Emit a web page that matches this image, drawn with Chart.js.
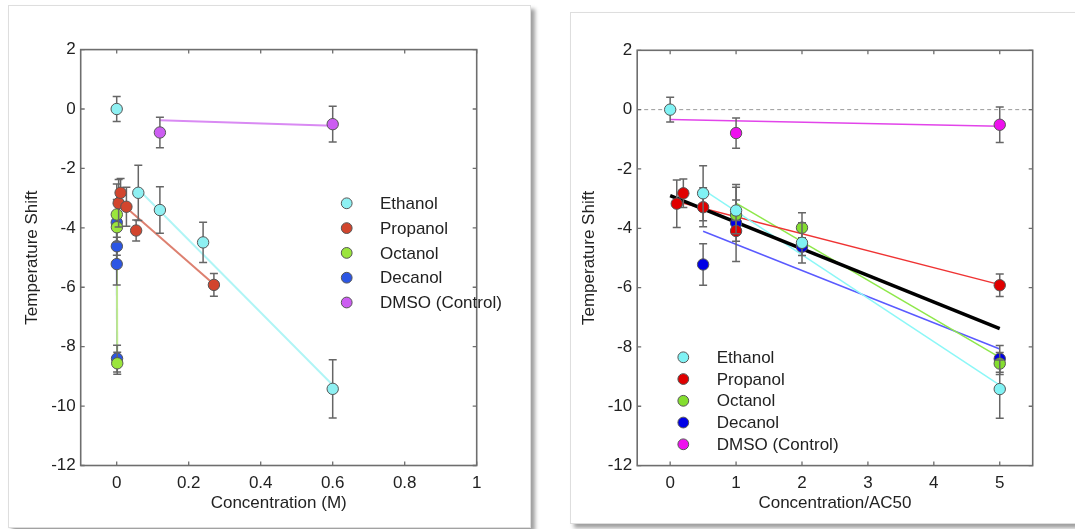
<!DOCTYPE html>
<html>
<head>
<meta charset="utf-8">
<title>Temperature shift vs concentration</title>
<script src="https://cdn.jsdelivr.net/npm/chart.js@4.4.1/dist/chart.umd.min.js"></script>
<style>
  html, body { margin: 0; padding: 0; background: #fff; }
  body { width: 1075px; height: 529px; position: relative; overflow: hidden; }
  .card { position: absolute; background: #fff; border: 1px solid #dedede; box-shadow: 4px 4px 4px rgba(0,0,0,0.38); }
  #leftCard { left: 8px; top: 5px; width: 521px; height: 521px; }
  #rightCard { left: 570px; top: 12px; width: 520px; height: 510px; }
  canvas { position: absolute; left: 0; top: 0; }
</style>
</head>
<body>
<div class="card" id="leftCard"><canvas id="concChart" width="521" height="521"></canvas></div>
<div class="card" id="rightCard"><canvas id="ratioChart" width="504" height="510"></canvas></div>
<script>
const seriesNames = ['Ethanol', 'Propanol', 'Octanol', 'Decanol', 'DMSO (Control)'];

// measured points: concentration (M), concentration/AC50, shift, error
const ethanolConc  = [0, 0.06, 0.12, 0.24, 0.6];
const ethanolRatio = [0, 0.5, 1, 2, 5];
const ethanolShift = [0, -2.82, -3.40, -4.49, -9.42];
const ethanolErr   = [0.42, 0.93, 0.78, 0.68, 0.98];

const propanolConc  = [0.0054, 0.0108, 0.027, 0.054, 0.27];
const propanolRatio = [0.1, 0.2, 0.5, 1, 5];
const propanolShift = [-3.17, -2.82, -3.29, -4.09, -5.92];
const propanolErr   = [0.8, 0.48, 0.66, 0.35, 0.38];

const octanolConc  = [0.0003, 0.0006, 0.0015];
const octanolRatio = [1, 2, 5];
const octanolShift = [-3.55, -3.98, -8.56];
const octanolErr   = [0.5, 0.5, 0.37];

const decanolConc  = [0.0001, 0.0002, 0.0004, 0.001];
const decanolRatio = [0.5, 1, 2, 5];
const decanolShift = [-5.22, -3.82, -4.62, -8.40];
const decanolErr   = [0.7, 1.3, 0.3, 0.45];

const dmsoConc  = [0.12, 0.6];
const dmsoRatio = [1, 5];
const dmsoShift = [-0.79, -0.51];
const dmsoErr   = [0.51, 0.6];

// linear fits, start and end points
const ethanolFitConc  = [0.06, 0.6];
const ethanolFitRatio = [0.5, 5];
const ethanolFitShift = [-2.7, -9.29];

const propanolFitConc  = [0.0054, 0.27];
const propanolFitRatio = [0.1, 5];
const propanolFitShift = [-3.1, -5.9];

const octanolFitConc  = [0.0003, 0.0015];
const octanolFitRatio = [1, 5];
const octanolFitShift = [-3.15, -8.35];

const decanolFitConc  = [0.0001, 0.001];
const decanolFitRatio = [0.5, 5];
const decanolFitShift = [-4.1, -8.07];

const dmsoFitConc       = [0.12, 0.6];
const dmsoFitConcShift  = [-0.38, -0.56];
const dmsoFitRatio      = [0, 5];
const dmsoFitRatioShift = [-0.33, -0.56];

const allFitRatio = [0, 5];
const allFitShift = [-2.9, -7.38];

const concTicks  = [0, 0.2, 0.4, 0.6, 0.8, 1];
const ratioTicks = [0, 1, 2, 3, 4, 5];
const shiftTicks = [2, 0, -2, -4, -6, -8, -10, -12];

Chart.defaults.font.family = 'Arial, "Liberation Sans", sans-serif';

const pts = (xs, ys) => xs.map((x, i) => ({ x: x, y: ys[i] }));

// error bars go under each dataset's own symbols
const errorBars = {
  id: 'errorBars',
  beforeDatasetDraw(chart, args) {
    const ds = chart.data.datasets[args.index];
    if (!ds.errors) return;
    const { ctx, scales: { x, y } } = chart;
    ctx.save();
    ctx.strokeStyle = '#666';
    ctx.lineWidth = 1.5;
    ds.data.forEach((p, i) => {
      const e = ds.errors[i];
      const px = x.getPixelForValue(p.x);
      const top = y.getPixelForValue(p.y + e);
      const bot = y.getPixelForValue(p.y - e);
      ctx.beginPath();
      ctx.moveTo(px, top); ctx.lineTo(px, bot);
      ctx.moveTo(px - 4, top); ctx.lineTo(px + 4, top);
      ctx.moveTo(px - 4, bot); ctx.lineTo(px + 4, bot);
      ctx.stroke();
    });
    ctx.restore();
  }
};

// box frame with inward ticks, optional dashed zero line
const frame = {
  id: 'frame',
  beforeDatasetsDraw(chart, args, opts) {
    if (!opts.zeroLine) return;
    const { ctx, chartArea: a, scales: { y } } = chart;
    const py = y.getPixelForValue(0);
    ctx.save();
    ctx.strokeStyle = '#9a9a9a';
    ctx.lineWidth = 1;
    ctx.setLineDash([4, 3]);
    ctx.beginPath();
    ctx.moveTo(a.left, py); ctx.lineTo(a.right, py);
    ctx.stroke();
    ctx.restore();
  },
  afterDraw(chart) {
    const { ctx, chartArea: a, scales: { x, y } } = chart;
    ctx.save();
    ctx.strokeStyle = '#6e6e6e';
    ctx.lineWidth = 1.6;
    ctx.strokeRect(a.left, a.top, a.right - a.left, a.bottom - a.top);
    ctx.lineWidth = 1.3;
    ctx.beginPath();
    x.ticks.forEach(t => {
      const px = x.getPixelForValue(t.value);
      ctx.moveTo(px, a.bottom); ctx.lineTo(px, a.bottom - 4);
      ctx.moveTo(px, a.top); ctx.lineTo(px, a.top + 4);
    });
    y.ticks.forEach(t => {
      const py = y.getPixelForValue(t.value);
      ctx.moveTo(a.left, py); ctx.lineTo(a.left + 4, py);
      ctx.moveTo(a.right, py); ctx.lineTo(a.right - 4, py);
    });
    ctx.stroke();
    ctx.restore();
  }
};

// symbol legend inside the plot
const dotLegend = {
  id: 'dotLegend',
  afterDraw(chart, args, opts) {
    const { ctx, chartArea: a } = chart;
    const items = chart.data.datasets.filter(d => d.inLegend);
    ctx.save();
    ctx.font = '17px Arial, "Liberation Sans", sans-serif';
    ctx.textBaseline = 'middle';
    items.forEach((d, i) => {
      const cx = a.left + opts.x;
      const cy = a.top + opts.y + i * opts.dy;
      ctx.beginPath();
      ctx.arc(cx, cy, 5.4, 0, Math.PI * 2);
      ctx.fillStyle = d.backgroundColor;
      ctx.fill();
      ctx.strokeStyle = '#555';
      ctx.lineWidth = 1;
      ctx.stroke();
      ctx.fillStyle = '#222';
      ctx.fillText(d.label, a.left + opts.textX, cy + 1);
    });
    ctx.restore();
  }
};

function pointSet(name, xs, ys, errs, color) {
  return {
    label: name, data: pts(xs, ys), errors: errs, inLegend: true,
    backgroundColor: color, borderColor: '#555', borderWidth: 1,
    pointRadius: 5.7, showLine: false, order: 0
  };
}

function fitSet(xs, ys, color, width) {
  return {
    data: pts(xs, ys), showLine: true, pointRadius: 0,
    borderColor: color, borderWidth: width || 1.5, order: 1
  };
}

function makePanel(id, cfg) {
  return new Chart(document.getElementById(id), {
    type: 'scatter',
    data: { datasets: cfg.datasets },
    plugins: [errorBars, frame, dotLegend],
    options: {
      responsive: false,
      animation: false,
      devicePixelRatio: 1,
      layout: { padding: { top: cfg.top, right: cfg.right, left: 0, bottom: 0 } },
      plugins: {
        legend: { display: false },
        tooltip: { enabled: false },
        frame: { zeroLine: cfg.zeroLine },
        dotLegend: cfg.legend
      },
      scales: {
        x: {
          type: 'linear', min: cfg.xMin, max: cfg.xMax,
          afterBuildTicks: s => { s.ticks = cfg.xTicks.map(v => ({ value: v })); },
          afterFit: s => { s.height = cfg.xAxisHeight; },
          grid: { display: false, drawTicks: false },
          border: { display: false },
          ticks: { color: '#222', font: { size: 17 }, padding: 8, autoSkip: false, maxRotation: 0, callback: v => String(v) },
          title: { display: true, text: cfg.xTitle, color: '#222', font: { size: 17 }, padding: { top: 0, bottom: cfg.xTitlePad } }
        },
        y: {
          type: 'linear', min: -12, max: 2,
          afterBuildTicks: s => { s.ticks = shiftTicks.map(v => ({ value: v })); },
          afterFit: s => { s.width = cfg.yAxisWidth; },
          grid: { display: false, drawTicks: false },
          border: { display: false },
          ticks: { color: '#222', font: { size: 17 }, padding: 5, autoSkip: false, callback: v => String(v) },
          title: { display: true, text: 'Temperature Shift', color: '#222', font: { size: 17 }, padding: { top: cfg.yTitlePad, bottom: 0 } }
        }
      }
    }
  });
}

// left: concentration in M
makePanel('concChart', {
  xMin: -0.1, xMax: 1, xTicks: concTicks, xTitle: 'Concentration (M)',
  top: 43.6, right: 53.3, yAxisWidth: 71.7, xAxisHeight: 61.5,
  xTitlePad: 13.8, yTitlePad: 13.5, zeroLine: false,
  legend: { x: 266, y: 153.7, dy: 24.8, textX: 299.3 },
  datasets: [
    pointSet(seriesNames[0], ethanolConc, ethanolShift, ethanolErr, '#8ef0f2'),
    pointSet(seriesNames[1], propanolConc, propanolShift, propanolErr, '#d2452d'),
    pointSet(seriesNames[2], octanolConc, octanolShift, octanolErr, '#9be53c'),
    pointSet(seriesNames[3], decanolConc, decanolShift, decanolErr, '#2c56e4'),
    pointSet(seriesNames[4], dmsoConc, dmsoShift, dmsoErr, '#cc5df2'),
    fitSet(ethanolFitConc, ethanolFitShift, '#b0f5f6', 2),
    fitSet(propanolFitConc, propanolFitShift, '#dd8070', 2),
    fitSet(octanolFitConc, octanolFitShift, '#bfea8e', 2),
    fitSet(decanolFitConc, decanolFitShift, '#7b90ea', 2),
    fitSet(dmsoFitConc, dmsoFitConcShift, '#d98af3', 2)
  ]
});

// right: concentration normalised by AC50
makePanel('ratioChart', {
  xMin: -0.5, xMax: 5.5, xTicks: ratioTicks, xTitle: 'Concentration/AC50',
  top: 37.3, right: 42.3, yAxisWidth: 66.2, xAxisHeight: 57.4,
  xTitlePad: 9.8, yTitlePad: 8.1, zeroLine: true,
  legend: { x: 46.1, y: 307, dy: 21.75, textX: 79.5 },
  datasets: [
    pointSet(seriesNames[0], ethanolRatio, ethanolShift, ethanolErr, '#80f2f4'),
    pointSet(seriesNames[1], propanolRatio, propanolShift, propanolErr, '#e00000'),
    pointSet(seriesNames[2], octanolRatio, octanolShift, octanolErr, '#84de2f'),
    pointSet(seriesNames[3], decanolRatio, decanolShift, decanolErr, '#0000e6'),
    pointSet(seriesNames[4], dmsoRatio, dmsoShift, dmsoErr, '#ee10ee'),
    fitSet(allFitRatio, allFitShift, '#000000', 3.5),
    fitSet(ethanolFitRatio, ethanolFitShift, '#8cf7f7'),
    fitSet(propanolFitRatio, propanolFitShift, '#ef3333'),
    fitSet(octanolFitRatio, octanolFitShift, '#8ee84a'),
    fitSet(decanolFitRatio, decanolFitShift, '#5a5aff'),
    fitSet(dmsoFitRatio, dmsoFitRatioShift, '#e244ea')
  ]
});
</script>
</body>
</html>
